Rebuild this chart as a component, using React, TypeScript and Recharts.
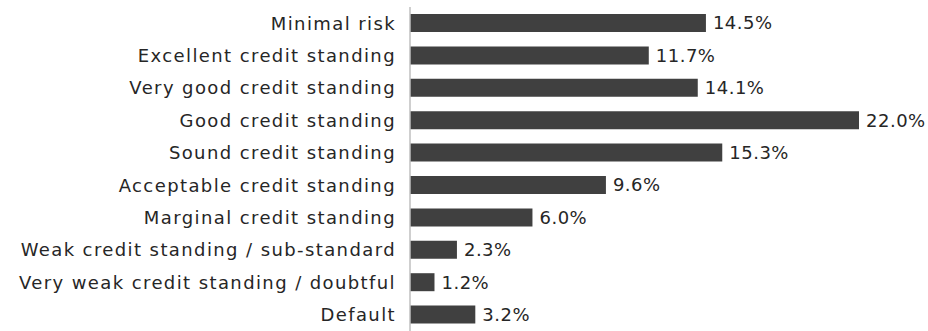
import { Bar, BarChart, LabelList, XAxis, YAxis } from "recharts";

const categories = [
  "Minimal risk",
  "Excellent credit standing",
  "Very good credit standing",
  "Good credit standing",
  "Sound credit standing",
  "Acceptable credit standing",
  "Marginal credit standing",
  "Weak credit standing / sub-standard",
  "Very weak credit standing / doubtful",
  "Default",
];

const shares = [14.5, 11.7, 14.1, 22.0, 15.3, 9.6, 6.0, 2.3, 1.2, 3.2];

const data = categories.map((name, i) => ({ name, share: shares[i] }));

const font = "'DejaVu Sans', sans-serif";

export default function App() {
  return (
    <div style={{ position: "fixed", left: 0, top: 0, background: "#fff" }}>
      <BarChart
        width={928}
        height={331}
        data={data}
        layout="vertical"
        margin={{ top: 7, right: 69, bottom: 0, left: 0 }}
      >
        <XAxis type="number" domain={[0, 22]} hide />
        <YAxis
          type="category"
          dataKey="name"
          width={410}
          tickLine={false}
          tickSize={0}
          tickMargin={14}
          axisLine={{ stroke: "#bfbfbf", strokeWidth: 1.5 }}
          tick={{ fill: "#262626", fontSize: 18, fontFamily: font, letterSpacing: 1.4 }}
          interval={0}
        />
        <Bar dataKey="share" fill="#404040" barSize={18} isAnimationActive={false}>
          <LabelList
            dataKey="share"
            position="right"
            offset={7}
            formatter={(v: number) => `${v.toFixed(1)}%`}
            style={{ fill: "#262626", fontSize: 18, fontFamily: font, letterSpacing: 0.5 }}
          />
        </Bar>
      </BarChart>
    </div>
  );
}
